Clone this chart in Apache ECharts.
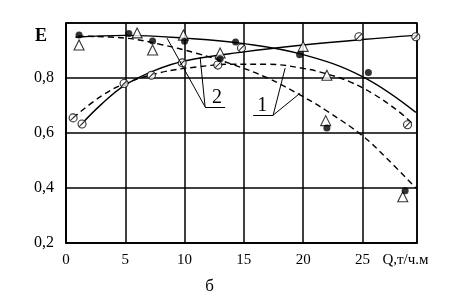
<!DOCTYPE html>
<html><head><meta charset="utf-8">
<script src="https://cdn.jsdelivr.net/npm/echarts/dist/echarts.min.js"></script>
<style>html,body{margin:0;padding:0;background:#fff}#c{width:466px;height:305px}</style>
</head><body><div id="c"></div>
<script>
// ---- data (Q, E) ----
const xTicks = [0, 5, 10, 15, 20, 25];
const yTickLabels = {0.2: '0,2', 0.4: '0,4', 0.6: '0,6', 0.8: '0,8'};
const xTitle = 'Q,т/ч.м';
const yTitle = 'E';
const caption = 'б';

// solid, descending from top-left
const curveSolidA = [[0.8,0.948],[5,0.955],[10,0.945],[15,0.925],[20,0.885],[25,0.805],[29.5,0.675]];
// solid, rising
const curveSolidB = [[1.3,0.632],[3,0.705],[5,0.775],[7.5,0.828],[10,0.862],[15,0.895],[20,0.92],[25,0.94],[29.5,0.955]];
// dashed arc
const curveDashA = [[0.6,0.655],[3,0.735],[5,0.78],[8,0.82],[11,0.84],[14,0.85],[17,0.85],[20,0.835],[22,0.815],[24,0.785],[26,0.74],[28,0.68],[29.2,0.635]];
// dashed, steep descending
const curveDashB = [[1,0.952],[5,0.945],[8,0.922],[11,0.89],[14,0.85],[17,0.80],[20,0.732],[22,0.68],[25,0.59],[27,0.51],[29.5,0.40]];

const dotsFilled = [[1.1,0.956],[5.3,0.962],[7.3,0.935],[10.0,0.934],[13.0,0.87],[14.3,0.931],[19.7,0.885],[25.5,0.82],[22.0,0.618],[28.6,0.39]];
const triangles = [[1.1,0.92],[6.0,0.964],[7.3,0.902],[9.9,0.956],[13.0,0.891],[20.0,0.915],[22.0,0.81],[21.9,0.645],[28.4,0.368]];
const slashedCircles = [[0.6,0.655],[1.35,0.633],[4.9,0.78],[7.2,0.81],[9.8,0.855],[12.8,0.847],[14.8,0.909],[24.7,0.95],[29.5,0.95],[28.8,0.63]];

// annotation leaders (data coords)
const leaders2 = [[[11.73,0.695],[13.42,0.695]],[[11.73,0.695],[8.52,0.945]],[[11.73,0.695],[11.31,0.876]]];
const leaders1 = [[[15.78,0.665],[17.47,0.665]],[[17.47,0.665],[18.48,0.836]],[[17.47,0.665],[19.75,0.745]]];
const labelPos2 = [12.74, 0.727];
const labelPos1 = [16.54, 0.698];

const FONT = 'Liberation Serif';
const chart = echarts.init(document.getElementById('c'), null, {renderer: 'canvas'});

function lineSeries(data, dashed) {
  return {type: 'line', data, smooth: 0.4, showSymbol: false, symbol: 'none', silent: true, z: 2,
    lineStyle: {color: '#000', width: 1.4, type: dashed ? [6, 4] : 'solid'}};
}
function leaderLines(segs) {
  return segs.map(s => [{coord: s[0]}, {coord: s[1]}]);
}

const option = {
  animation: false,
  backgroundColor: '#fff',
  grid: {left: 66, top: 23, right: 49, bottom: 62, show: true, borderColor: '#000', borderWidth: 1.5, backgroundColor: 'transparent'},
  xAxis: {type: 'value', min: 0, max: 29.6, interval: 5,
    axisLine: {show: true, lineStyle: {color: '#000', width: 1.5}},
    axisTick: {show: false},
    splitLine: {show: true, lineStyle: {color: '#000', width: 1.5}},
    axisLabel: {color: '#000', fontFamily: FONT, fontSize: 15, margin: 10,
      formatter: v => xTicks.includes(Math.round(v * 1000) / 1000) ? String(v) : ''}},
  yAxis: {type: 'value', min: 0.2, max: 1.0, interval: 0.2,
    axisLine: {show: true, lineStyle: {color: '#000', width: 1.5}},
    axisTick: {show: false},
    splitLine: {show: true, lineStyle: {color: '#000', width: 1.5}},
    axisLabel: {color: '#000', fontFamily: FONT, fontSize: 16, margin: 12,
      formatter: v => yTickLabels[(Math.round(v * 10) / 10)] || ''}},
  series: [
    lineSeries(curveSolidA, false),
    lineSeries(curveSolidB, false),
    lineSeries(curveDashA, true),
    lineSeries(curveDashB, true),
    {type: 'scatter', data: [], silent: true,
      markLine: {silent: true, symbol: ['none', 'none'], label: {show: false},
        lineStyle: {color: '#000', width: 1, type: 'solid'},
        data: leaderLines(leaders2).concat(leaderLines(leaders1))}},
    {type: 'scatter', data: triangles, symbol: 'triangle', symbolSize: 10, z: 4, silent: true,
      itemStyle: {color: '#fff', borderColor: '#000', borderWidth: 1.1}},
    {type: 'scatter', data: slashedCircles, symbol: 'path://M10,5A5,5,0,1,1,0,5A5,5,0,1,1,10,5ZM1.8,8.2L8.2,1.8', symbolSize: 8, z: 4, silent: true,
      itemStyle: {color: '#fff', borderColor: '#000', borderWidth: 1.1}},
    {type: 'scatter', data: dotsFilled, symbol: 'circle', symbolSize: 7, z: 5, silent: true,
      itemStyle: {color: '#000'}}
  ]
};
chart.setOption(option);

const p2 = chart.convertToPixel({gridIndex: 0}, labelPos2);
const p1 = chart.convertToPixel({gridIndex: 0}, labelPos1);
const pE = chart.convertToPixel({gridIndex: 0}, [0, 0.96]);
const pQ = chart.convertToPixel({gridIndex: 0}, [25, 0.2]);
const pC = chart.convertToPixel({gridIndex: 0}, [12.1, 0.2]);
chart.setOption({graphic: [
  {type: 'text', x: p2[0], y: p2[1], style: {text: '2', font: '20px "' + FONT + '"', fill: '#000', align: 'center', verticalAlign: 'middle'}},
  {type: 'text', x: p1[0], y: p1[1], style: {text: '1', font: '20px "' + FONT + '"', fill: '#000', align: 'center', verticalAlign: 'middle'}},
  {type: 'text', x: pE[0] - 25, y: pE[1] + 2, style: {text: yTitle, font: 'bold 18px "' + FONT + '"', fill: '#000', align: 'center', verticalAlign: 'middle'}},
  {type: 'text', x: pQ[0] + 20, y: pQ[1] + 17, style: {text: xTitle, font: '15px "' + FONT + '"', fill: '#000', align: 'left', verticalAlign: 'middle'}},
  {type: 'text', x: pC[0], y: pC[1] + 44, style: {text: caption, font: '17px "' + FONT + '"', fill: '#000', align: 'center', verticalAlign: 'middle'}}
]});
</script></body></html>
